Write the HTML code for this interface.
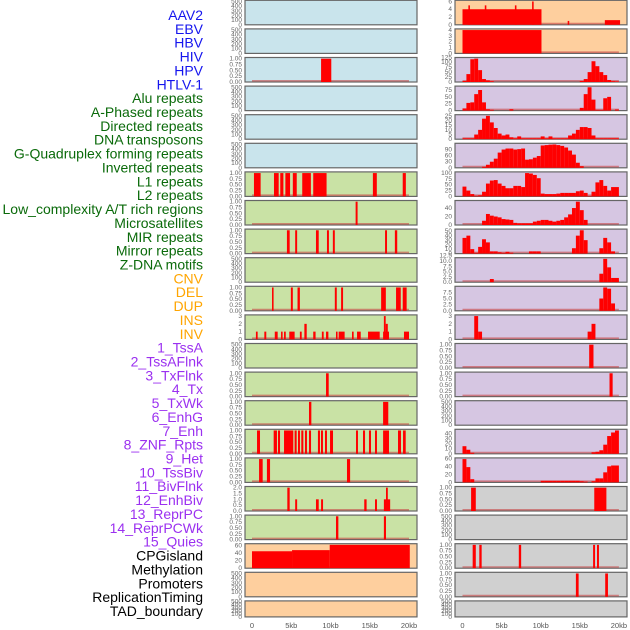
<!DOCTYPE html>
<html><head><meta charset="utf-8"><style>
body{margin:0;background:#fff;width:630px;height:630px;overflow:hidden}
svg{display:block;font-family:"Liberation Sans",sans-serif}
</style></head><body>
<svg id="chart" width="630" height="630" viewBox="0 0 630 630">
<g id="labels"></g>
<g id="panels"></g>
<g id="xaxis"></g>
</svg>
<script>
const trackLabels = ["AAV2","EBV","HBV","HIV","HPV","HTLV-1","Alu repeats","A-Phased repeats","Directed repeats","DNA transposons","G-Quadruplex forming repeats","Inverted repeats","L1 repeats","L2 repeats","Low_complexity A/T rich regions","Microsatellites","MIR repeats","Mirror repeats","Z-DNA motifs","CNV","DEL","DUP","INS","INV","1_TssA","2_TssAFlnk","3_TxFlnk","4_Tx","5_TxWk","6_EnhG","7_Enh","8_ZNF_Rpts","9_Het","10_TssBiv","11_BivFlnk","12_EnhBiv","13_ReprPC","14_ReprPCWk","15_Quies","CPGisland","Methylation","Promoters","ReplicationTiming","TAD_boundary"];
const labelGroupSizes = [6,13,5,15,5];
const labelGroupColors = ["#1515ee","#0a6a0a","#ffa500","#9b30f0","#000000"];
const xTickValues = [0,5,10,15,20];
const xTickLabels = ["0","5kb","10kb","15kb","20kb"];
const leftColors = ["#c9e4ec","#c9e4ec","#c9e4ec","#c9e4ec","#c9e4ec","#c9e4ec","#c9e2a5","#c9e2a5","#c9e2a5","#c9e2a5","#c9e2a5","#c9e2a5","#c9e2a5","#c9e2a5","#c9e2a5","#c9e2a5","#c9e2a5","#c9e2a5","#c9e2a5","#fecf9e","#fecf9e","#fecf9e"];
const rightColors = ["#fecf9e","#fecf9e","#d6c6e2","#d6c6e2","#d6c6e2","#d6c6e2","#d6c6e2","#d6c6e2","#d6c6e2","#d6c6e2","#d6c6e2","#d6c6e2","#d6c6e2","#d6c6e2","#d6c6e2","#d6c6e2","#d6c6e2","#d0d0d0","#d0d0d0","#d0d0d0","#d0d0d0","#d0d0d0"];
const E = [0,100,200,300,400,500], F = [0,0.25,0.5,0.75,1];
const leftTicks = [E,E,F,E,E,E,F,F,F,E,F,[0,1,2,3],E,F,F,F,F,[0,0.5,1,1.5,2],F,[0,20,40,60],E,E];
const leftDecimals = [0,0,2,0,0,0,2,2,2,0,2,0,0,2,2,2,2,1,2,0,0,0];
const rightTicks = [[0,2,4,6],[0,1,2,3,4],[0,25,50,75,100,125],[0,25,50,75],[0,5,10,15,20,25],[0,30,60,90],[0,25,50,75,100],[0,20,40],[0,10,20,30,40,50],[0,2.5,5,7.5,10,12.5],[0,2.5,5,7.5],[0,1,2,3],F,F,E,[0,10,20,30,40],[0,20,40,60],F,E,F,F,E];
const rightDecimals = [0,0,0,0,0,0,0,0,0,1,1,0,2,2,0,0,0,2,0,2,2,0];
// left bars: [startKb, endKb, value]
const leftBars = [
 [],[],
 [[8.8,10.1,1]],
 [],[],[],
 [[0.25,1.1,1],[2.8,3.4,1],[3.6,4.0,1],[4.25,4.85,1],[5.2,5.7,1],[6.4,7.5,1],[7.8,9.5,1],[15.4,15.9,1],[19.2,19.6,1]],
 [[13.2,13.45,1]],
 [[4.45,4.8,1],[5.5,5.75,1],[8.15,8.5,1],[9.55,9.8,1],[10.3,10.55,1],[16.95,17.2,1],[18.2,18.5,1]],
 [],
 [[2.55,2.75,1],[4.95,5.2,1],[5.8,6.1,1],[10.55,10.8,1],[11.35,11.6,1],[16.45,17.05,1],[18.35,18.95,1],[19.2,19.7,1]],
 [[0.5,0.72,1],[1.57,1.82,1],[2.9,3.27,1],[3.7,3.9,1],[4.08,4.3,1],[4.75,5.43,1],[6.1,6.33,1],[6.67,6.97,2],[7.8,8.1,1],[8.9,9.13,1],[9.43,9.73,1],[10.7,10.9,1],[11.04,11.8,1],[12.74,12.95,1],[13.38,13.85,1],[14.78,16.27,1],[16.7,17.45,1],[16.8,17.03,3],[17.03,17.3,2],[19.36,20.0,1]],
 [],
 [[9.43,9.77,1]],
 [[7.26,7.56,1],[16.7,17.36,1]],
 [[0.64,1.02,1],[2.76,3.18,1],[3.31,3.57,1],[4.08,5.26,1],[5.43,5.69,1],[5.86,6.11,1],[6.28,6.54,1],[6.75,7.0,1],[7.26,7.52,1],[8.4,8.66,1],[8.79,9.04,1],[9.3,9.55,1],[9.94,10.32,1],[13.25,13.5,1],[14.14,14.4,1],[14.9,15.16,1],[15.67,15.92,1],[16.7,17.45,1],[18.6,18.98,1],[19.24,19.58,1]],
 [[0.9,1.36,1],[1.9,2.3,1],[12.1,12.5,1]],
 [[4.5,4.8,2],[5.5,5.75,1],[8.15,8.5,1],[8.8,9.05,1],[14.3,14.6,1],[15.67,15.92,1],[16.8,17.6,1],[17.07,17.3,2]],
 [[10.7,11.0,1],[16.8,17.07,1]],
 [[0,5.1,45],[5.1,9.9,48],[9.9,20.1,62]],
 [],[]
];
// right profiles: values per 0.5kb bin (41 bins), null = use bars
const rightProfiles = [
 null,null,
 [5,40,115,118,60,15,8,4,0,0,0,0,0,0,0,0,0,0,0,0,0,0,0,0,0,0,0,0,0,0,5,15,50,105,80,50,35,10,4,3,0],
 [8,28,30,60,75,30,5,3,0,0,0,0,5,0,0,0,0,0,0,0,0,0,0,0,0,0,0,0,0,0,10,60,85,40,3,3,45,50,0,4,0],
 [1,1,1,5,10,22,25,18,12,6,4,5,2,1,3,1,1,1,1,1,3,1,3,1,1,1,1,4,6,10,13,13,12,4,1,1,1,1,1,1,0],
 [0,0,0,0,0,5,15,30,45,75,90,95,95,90,92,95,40,42,50,58,110,112,114,115,112,108,100,85,65,25,8,0,0,0,0,0,0,0,0,0,0],
 [42,25,10,3,5,20,55,68,70,55,45,35,35,45,45,40,100,98,92,78,12,10,10,10,12,15,15,15,15,22,25,15,2,20,60,70,45,25,40,40,0],
 [0,0,0,0,0,10,26,22,20,18,14,13,12,5,4,4,4,4,8,10,12,12,10,8,10,12,18,25,40,55,35,12,0,0,0,0,0,0,0,0,0],
 [35,40,10,2,15,32,25,5,5,3,2,4,2,0,0,0,0,5,5,5,0,0,0,0,0,0,0,0,12,40,52,30,0,0,0,12,35,25,5,0,0],
 [0,0,0,0,0,0,0,1.5,0,0,0,0,0,0,0,0,0,0,0,0,0,0,0,0,0,0,0,0,0,0,0,0,0,0,0,4,11,7,2,2,0],
 [0,0,0,0,0,0,0,0,0,0,0,0,0,0,0,0,0,0,0,0,0,0,0,0,0,0,0,0,0,0,0,0,0,0,0,5,9.5,9,3,0,0],
 null,null,null,null,
 [15,8,2,0,0,0,0,0,0,0,0,0,0,0,0,0,0,0,0,0,0,0,0,0,0,0,0,0,0,0,0,0,0,3,4,7,18,35,42,46,0],
 [58,38,8,0,0,0,0,0,0,0,0,0,0,0,0,0,0,0,0,0,4,4,4,4,4,4,4,4,4,4,3,2,0,3,10,10,25,40,42,42,0],
 null,null,null,null,null
];
const rightBars = [
 [[0,10.1,4],[0.75,0.95,5],[2.85,3.05,5],[6.7,6.9,5],[8.9,9.1,6],[13.45,13.65,1],[18.2,20.15,1.2]],
 [[0,10.1,4]],
 [],[],[],[],[],[],[],[],[],
 [[1.5,2.0,3],[2.0,2.5,1],[16.0,16.5,1],[16.5,17.0,2]],
 [[16.2,16.75,1]],
 [[18.8,19.2,1]],
 [],[],[],
 [[1.1,1.7,1],[16.85,18.4,1]],
 [],
 [[1.3,1.7,1],[2.15,2.45,1],[7.2,7.5,1],[16.7,16.95,1],[17.2,17.45,1]],
 [[14.5,14.85,1],[18.25,18.6,1]],
 []
];

const NS="http://www.w3.org/2000/svg";
function mk(tag,attrs,parent){const e=document.createElementNS(NS,tag);for(const k in attrs)e.setAttribute(k,attrs[k]);parent.appendChild(e);return e;}
const labelsG=document.getElementById('labels'),panelsG=document.getElementById('panels'),xG=document.getElementById('xaxis');

// labels
let gi=0,cnt=0;
trackLabels.forEach((t,i)=>{
  while(cnt>=labelGroupSizes[gi]){cnt=0;gi++;}
  cnt++;
  const el=mk('text',{x:203,y:20+i*13.86,'text-anchor':'end','font-size':'14',fill:labelGroupColors[gi]},labelsG);
  el.textContent=t;
  
  
});

function rowTop(i){return 0.3+i*28.6;}
function rowH(i){return i===21?16:24.5;}

function drawPanel(side,i,segs,ticks,dec,color){
  const px = side==='left'?245:455, pw=172;
  const x0 = side==='left'?252:462.5, kx = side==='left'?7.85:7.82;
  const xs = kb=>x0+kb*kx;
  const top=rowTop(i), h=rowH(i), bot=top+h;
  let maxV=0; segs.forEach(s=>{if(s[2]>maxV)maxV=s[2];});
  const ymax = segs.length? maxV*1.05 : 525;
  const ys = v=>bot-(v/ymax)*h;
  const g=mk('g',{},panelsG);
  
  
  const bg=mk('rect',{x:px,y:top,width:pw,height:h,fill:color,stroke:'#666','stroke-width':1.2},g);
  
  
  if(segs.length){
    const bl=mk('line',{x1:xs(0),x2:xs(20),y1:bot-1.2,y2:bot-1.2,stroke:'rgba(200,70,70,0.6)','stroke-width':1.6},g);
    
    
  }
  segs.forEach(s=>{
    const y=ys(s[2]);
    const r=mk('rect',{x:xs(s[0]),y:Math.max(top,y),width:Math.max(0.8,xs(s[1])-xs(s[0])),height:bot-Math.max(top,y),fill:'#ff0000'},g);
    
    
  });
  ticks.forEach(v=>{
    const t=mk('text',{x:px-3,y:ys(v)+2,'text-anchor':'end','font-size':'6.5',fill:'#666'},g);
    t.textContent=v.toFixed(dec);
    
    
  });
}
for(let i=0;i<22;i++){
  drawPanel('left',i,leftBars[i],leftTicks[i],leftDecimals[i],leftColors[i]);
  let segs=rightBars[i];
  if(rightProfiles[i]){segs=[];rightProfiles[i].forEach((v,b)=>{if(v>0)segs.push([b*0.5,b*0.5+0.5,v]);});}
  drawPanel('right',i,segs,rightTicks[i],rightDecimals[i],rightColors[i]);
}
// x axes
[[252,7.85],[462.5,7.82]].forEach(([x0,kx],c)=>{
  xTickValues.forEach((v,j)=>{
    const t=mk('text',{x:x0+v*kx,y:628,'text-anchor':'middle','font-size':'7.5',fill:'#555'},xG);
    t.textContent=xTickLabels[j];
    
    
  });
});
</script>
</body></html>
